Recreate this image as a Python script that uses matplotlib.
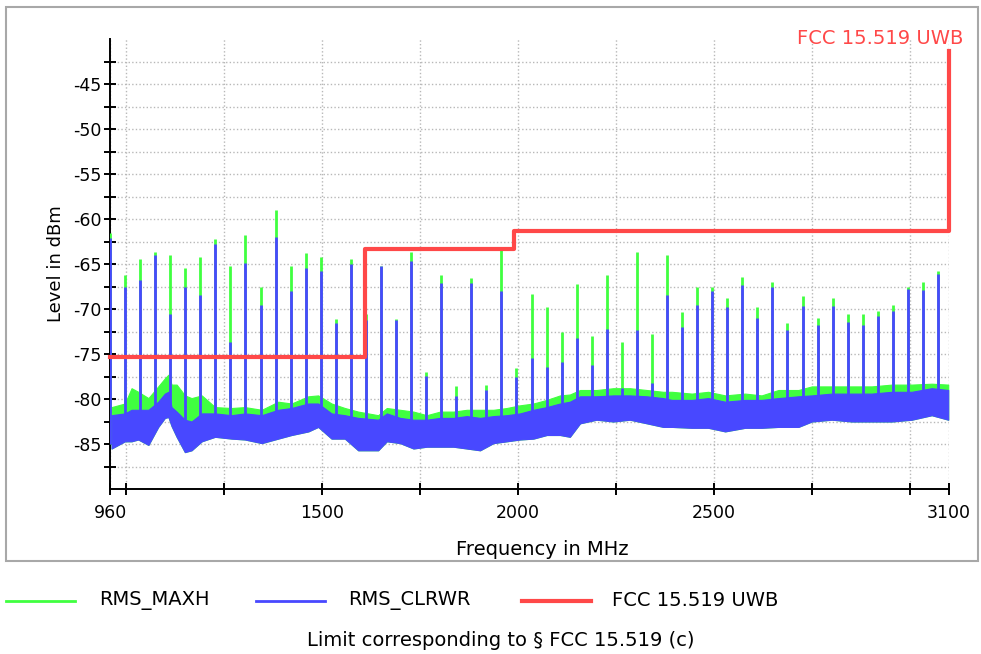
import numpy as np
import matplotlib
matplotlib.use('Agg')
import matplotlib.pyplot as plt
from matplotlib.lines import Line2D
from matplotlib.patches import Rectangle

# noise floor envelope (MHz / dBm)
noise_freq = [964, 998, 1015, 1032, 1058, 1083, 1100, 1109, 1117, 1130,
              1151, 1168, 1194, 1228, 1270, 1304, 1347, 1389, 1423, 1466,
              1491, 1525, 1559, 1593, 1644, 1666, 1700, 1734, 1768, 1802,
              1836, 1870, 1904, 1938, 1972, 2006, 2040, 2074, 2108, 2133,
              2159, 2201, 2244, 2286, 2329, 2371, 2393, 2444, 2486, 2529,
              2580, 2622, 2665, 2716, 2750, 2801, 2852, 2903, 2954, 3005,
              3056, 3098]
maxh_top = [-80.9, -80.5, -78.8, -79.2, -79.9, -78.6, -77.7, -77.3, -78.4, -78.4,
            -79.6, -79.9, -79.6, -80.9, -81.0, -80.9, -81.2, -80.3, -80.5, -79.7,
            -79.6, -80.5, -81.0, -81.4, -81.8, -81.0, -81.2, -81.4, -81.8, -81.4,
            -81.4, -81.2, -81.2, -81.2, -81.0, -80.7, -80.5, -80.1, -79.6, -79.5,
            -79.0, -79.0, -78.8, -78.8, -79.0, -79.2, -79.2, -79.4, -79.2, -79.6,
            -79.4, -79.6, -79.0, -79.0, -78.6, -78.6, -78.6, -78.6, -78.4, -78.4,
            -78.3, -78.4]
clrwr_top = [-81.8, -81.6, -81.2, -81.2, -81.2, -80.3, -79.4, -79.2, -80.9, -81.4,
             -82.3, -82.5, -81.6, -81.6, -81.8, -81.6, -81.8, -81.2, -81.0, -80.5,
             -80.5, -81.6, -81.8, -82.1, -82.3, -81.6, -82.1, -82.3, -82.3, -82.1,
             -82.1, -81.9, -82.1, -81.9, -81.8, -81.6, -81.2, -80.9, -80.5, -80.3,
             -79.7, -79.7, -79.6, -79.6, -79.7, -79.9, -80.1, -80.1, -79.9, -80.3,
             -80.1, -80.1, -79.9, -79.7, -79.6, -79.4, -79.4, -79.4, -79.2, -79.2,
             -78.8, -79.0]
clrwr_bottom = [-85.5, -84.7, -84.7, -84.5, -85.1, -83.1, -82.1, -82.0, -83.0, -84.2,
                -85.9, -85.7, -84.7, -84.2, -84.4, -84.5, -84.9, -84.4, -84.0, -83.6,
                -83.1, -84.4, -84.4, -85.7, -85.7, -84.7, -84.9, -85.5, -85.3, -85.3,
                -85.3, -85.5, -85.7, -84.9, -84.7, -84.5, -84.4, -84.0, -84.0, -84.2,
                -82.7, -82.3, -82.5, -82.3, -82.7, -83.1, -83.1, -83.2, -83.2, -83.6,
                -83.2, -83.2, -83.1, -83.1, -82.5, -82.3, -82.5, -82.5, -82.5, -82.3,
                -81.8, -82.3]

# discrete spurs (MHz) with their peak levels for both detectors
spike_freq = [960.0, 998.4, 1036.8, 1075.2, 1113.6, 1152.0, 1190.4, 1228.8,
              1267.2, 1305.6, 1344.0, 1382.4, 1420.8, 1459.2, 1497.6, 1536.0,
              1574.4, 1612.8, 1651.2, 1689.6, 1728.0, 1766.4, 1804.8, 1843.2,
              1881.6, 1920.0, 1958.4, 1996.8, 2035.2, 2073.6, 2112.0, 2150.4,
              2188.8, 2227.2, 2265.6, 2304.0, 2342.4, 2380.8, 2419.2, 2457.6,
              2496.0, 2534.4, 2572.8, 2611.2, 2649.6, 2688.0, 2726.4, 2764.8,
              2803.2, 2841.6, 2880.0, 2918.4, 2956.8, 2995.2, 3033.6, 3072.0]
spike_maxh = [-61.6, -66.2, -64.4, -63.7, -64.0, -65.4, -64.2, -62.2,
              -65.2, -61.8, -67.5, -59.0, -65.2, -63.8, -64.2, -71.1,
              -64.4, -70.6, -65.2, -71.1, -63.7, -77.0, -66.2, -78.6,
              -66.6, -78.4, -63.1, -76.6, -68.3, -69.8, -72.6, -67.2,
              -73.0, -66.2, -73.7, -63.7, -72.8, -64.0, -70.3, -67.6,
              -67.6, -68.8, -66.4, -69.8, -67.0, -71.6, -68.6, -71.0,
              -68.8, -70.6, -70.6, -70.2, -69.6, -67.6, -67.0, -65.8]
spike_clrwr = [-62.1, -67.5, -66.8, -64.0, -70.5, -67.6, -68.4, -62.8,
               -73.7, -64.9, -69.6, -62.0, -68.0, -65.4, -65.8, -71.5,
               -65.0, -71.2, -65.2, -71.2, -64.7, -77.4, -67.1, -79.7,
               -67.1, -79.0, -68.0, -77.5, -75.4, -76.4, -75.9, -73.2,
               -76.2, -72.2, -78.8, -72.3, -78.2, -68.4, -72.0, -69.6,
               -68.0, -69.8, -67.3, -71.0, -67.6, -72.3, -69.7, -71.8,
               -69.7, -71.4, -71.8, -70.8, -70.2, -67.8, -67.9, -66.1]

# FCC 15.519 UWB limit (steps-post)
limit_freq = [960, 1610, 1990, 3100]
limit_level = [-75.3, -63.3, -61.3, -41.3]

x_ticks = [960, 1000, 1250, 1500, 1750, 2000, 2250, 2500, 2750, 3000, 3100]
x_tick_labels = ['960', '', '', '1500', '', '2000', '', '2500', '', '', '3100']
y_ticks = [-87.5, -85, -82.5, -80, -77.5, -75, -72.5, -70, -67.5, -65, -62.5,
           -60, -57.5, -55, -52.5, -50, -47.5, -45, -42.5]
y_tick_labels = ['', '-85', '', '-80', '', '-75', '', '-70', '', '-65', '',
                 '-60', '', '-55', '', '-50', '', '-45', '']

GREEN = '#40FF40'
BLUE = '#4848FF'
RED = '#FF4848'


def plot_spectrum():
    W, H = 981, 654
    fig = plt.figure(figsize=(W / 100, H / 100), dpi=100)
    ax = fig.add_axes([110 / W, 1 - 489 / H, 839 / W, 450 / H])

    # noise floor bands
    ax.fill_between(noise_freq, clrwr_bottom, maxh_top, color=GREEN, lw=0.8, zorder=2)
    base = np.interp(spike_freq, noise_freq, clrwr_bottom) + 0.5
    ax.vlines(spike_freq, base, spike_maxh, color=GREEN, lw=2.0, zorder=3)
    ax.fill_between(noise_freq, clrwr_bottom, clrwr_top, color=BLUE, lw=0.8, zorder=4)
    ax.vlines(spike_freq, base, spike_clrwr, color=BLUE, lw=2.0, zorder=5)

    # limit line
    ax.plot(limit_freq, limit_level, drawstyle='steps-post', color=RED, lw=3,
            zorder=6, clip_on=False)
    ax.annotate('FCC 15.519 UWB', xy=(limit_freq[-1], limit_level[-1]),
                xytext=(10, 8.5), textcoords='offset points', ha='right',
                va='center', color=RED, fontsize=14, annotation_clip=False)

    ax.set_xlim(960, 3100)
    ax.set_ylim(-90, -40)
    ax.set_xticks(x_ticks, x_tick_labels)
    ax.set_yticks(y_ticks, y_tick_labels)
    ax.tick_params(direction='inout', length=9, width=1.4, labelsize=12.5)
    ax.tick_params(axis='x', pad=6)
    ax.tick_params(axis='y', pad=1.5)
    ax.grid(True, color='#B8B8B8', lw=1.0, linestyle=(0, (1, 1.6)))
    ax.set_axisbelow(True)
    for side in ['top', 'right']:
        ax.spines[side].set_visible(False)
    for side in ['left', 'bottom']:
        ax.spines[side].set_linewidth(1.4)
        ax.spines[side].set_zorder(1)

    ax.set_ylabel('Level in dBm', fontsize=13, labelpad=6)
    ax.set_xlabel('Frequency in MHz', fontsize=14)
    ax.xaxis.set_label_coords((542 - 110) / 839, (489 - 540) / 450)

    # outer frame
    fig.patches.append(Rectangle((6 / W, 1 - 561 / H), 972 / W, 554 / H,
                                 transform=fig.transFigure, fill=False,
                                 edgecolor='#A8A8A8', lw=1.5))

    # legend below the chart
    ly = 1 - 601 / H
    entries = [(GREEN, 2.0, 'RMS_MAXH', 6, 99),
               (BLUE, 2.0, 'RMS_CLRWR', 256, 348),
               (RED, 3.0, 'FCC 15.519 UWB', 522, 612)]
    for color, lw, label, x0, xt in entries:
        fig.lines.append(Line2D([x0 / W, (x0 + 69) / W], [ly, ly], color=color,
                                lw=lw, transform=fig.transFigure))
        fig.text(xt / W, ly, label, fontsize=14, va='center', ha='left')
    fig.text(501 / W, 1 - 640 / H, 'Limit corresponding to § FCC 15.519 (c)',
             fontsize=14, va='center', ha='center')

    fig.savefig('out.png', dpi=100)


plot_spectrum()
